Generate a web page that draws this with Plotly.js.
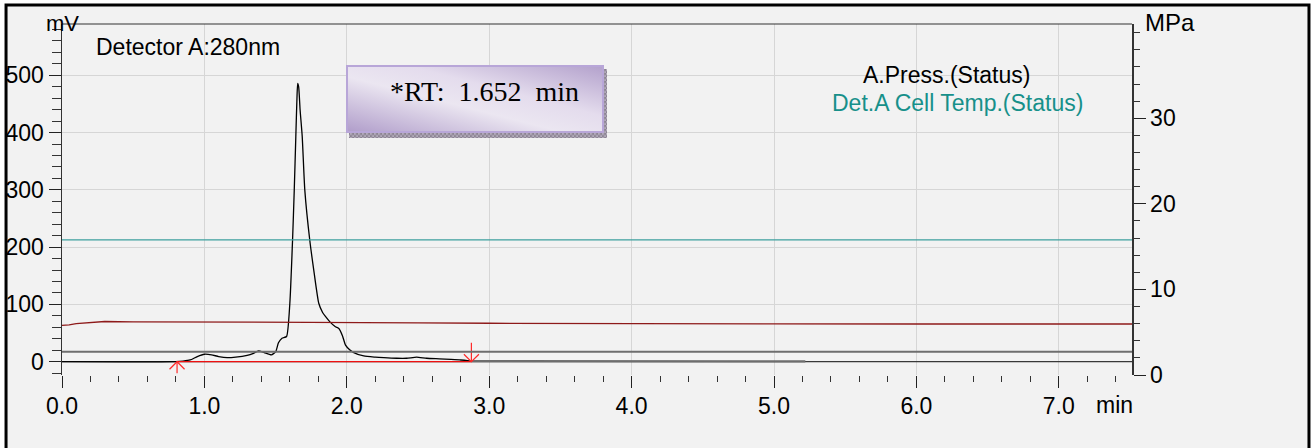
<!DOCTYPE html>
<html><head><meta charset="utf-8">
<script src="https://cdn.plot.ly/plotly-3.0.1.min.js"></script>
<style>html,body{margin:0;padding:0;background:#fff}#chart{width:1311px;height:448px}</style>
</head><body><div id="chart"></div>
<script>
// ---- data ----
const timeMin = [0, 0.80, 0.85, 0.90, 0.95, 1.00, 1.05, 1.10, 1.16, 1.22, 1.30, 1.34, 1.38, 1.42, 1.47, 1.50, 1.52, 1.545, 1.577, 1.600, 1.619, 1.631, 1.642, 1.650, 1.655, 1.662, 1.672, 1.687, 1.705, 1.740, 1.768, 1.803, 1.830, 1.850, 1.880, 1.920, 1.944, 1.970, 1.991, 2.020, 2.049, 2.119, 2.200, 2.260, 2.350, 2.420, 2.490, 2.560, 2.650, 2.730, 2.800, 2.875];
const signalMv = [0, 0, 1, 3, 9, 13, 12, 9, 7, 8, 11, 14, 19, 16, 12, 17, 33, 41, 44, 102, 212, 300, 393, 460, 486, 480, 440, 393, 300, 212, 160, 102, 86, 79, 70, 61, 58, 45, 29, 21, 16, 10, 8, 7, 6, 6, 8, 6, 5, 4, 3, 1];
const tailTime = [2.875, 3.5, 4.0, 4.5, 5.0, 5.22];
const tailMv = [1, 0.5, 0.5, 0.5, 0.5, 0.5];

const pressTime = [0, 0.05, 0.1, 0.2, 0.3, 0.5, 1.0, 1.5, 2.0, 2.5, 3.0, 3.5, 4.0, 5.0, 6.0, 7.0, 7.514];
const pressMPa = [5.80, 5.85, 6.00, 6.15, 6.25, 6.22, 6.20, 6.20, 6.17, 6.10, 6.05, 6.02, 6.00, 5.97, 5.96, 5.96, 5.96];
const tempTime = [0, 1, 2, 3, 4, 5, 6, 7, 7.514];
const tempVal = [15.78, 15.78, 15.78, 15.78, 15.78, 15.78, 15.78, 15.78, 15.78];
const statusTime = [0, 7.514];
const statusVal = [2.72, 2.72];

const peakStart = 0.808;
const peakEnd = 2.875;
const retentionTime = 1.652;

const xTicks = [0, 1, 2, 3, 4, 5, 6, 7];
const xTickLabels = ['0.0', '1.0', '2.0', '3.0', '4.0', '5.0', '6.0', '7.0'];
const leftTicks = [0, 100, 200, 300, 400, 500];
const leftTickLabels = ['0', '100', '200', '300', '400', '500'];
const rightTicks = [0, 10, 20, 30];
const rightTickLabels = ['0', '10', '20', '30'];

const xRange = [0, 7.514];
const yLeftRange = [-23.2, 589.6];
const yRightRange = [0, 41.02];

// ---- helpers ----
const plotW = 1070, plotH = 351;
const minPerPx = (xRange[1] - xRange[0]) / plotW;
const mvPerPx = (yLeftRange[1] - yLeftRange[0]) / plotH;
const arm = 7.5; // px
const ax = arm * minPerPx, ay = arm * mvPerPx;
const upTail = -11.5 * mvPerPx, downTail = 19 * mvPerPx;
const arrowX = [peakStart, peakStart, null, peakStart - ax, peakStart, peakStart + ax, null,
                peakEnd, peakEnd, null, peakEnd - ax, peakEnd, peakEnd + ax];
const arrowY = [0, upTail, null, -ay, 0, -ay, null,
                0, downTail, null, ay, 0, ay];

const SANS = '"Liberation Sans", Arial, sans-serif';
const SERIF = '"Liberation Serif", "Times New Roman", serif';

const traces = [
  {x: statusTime, y: statusVal, yaxis: 'y2', mode: 'lines', line: {color: '#6e6e6e', width: 2.2}, hoverinfo: 'skip'},
  {x: tempTime, y: tempVal, yaxis: 'y2', mode: 'lines', line: {color: '#3d9f9e', width: 1.3}, hoverinfo: 'skip'},
  {x: pressTime, y: pressMPa, yaxis: 'y2', mode: 'lines', line: {color: '#8e1a1a', width: 1.3}, hoverinfo: 'skip'},
  {x: xRange, y: [0, 0], mode: 'lines', line: {color: '#111', width: 1}, hoverinfo: 'skip'},
  {x: tailTime, y: tailMv, mode: 'lines', line: {color: '#6e6e6e', width: 2.2}, hoverinfo: 'skip'},
  {x: timeMin, y: signalMv, mode: 'lines', line: {color: '#000', width: 1.3, shape: 'spline', smoothing: 0.5}, hoverinfo: 'skip'},
  {x: [peakStart, peakEnd], y: [0, 0], mode: 'lines', line: {color: '#ee1111', width: 1.3}, hoverinfo: 'skip'},
  {x: arrowX, y: arrowY, mode: 'lines', line: {color: '#ff2a2a', width: 1.2}, hoverinfo: 'skip', cliponaxis: false}
];

const boxSvg = '<svg xmlns="http://www.w3.org/2000/svg" width="261" height="73" viewBox="0 0 261 73" preserveAspectRatio="none">' +
  '<defs><linearGradient id="g" x1="0" y1="1" x2="1" y2="0">' +
  '<stop offset="0" stop-color="#b09dca"/><stop offset="0.42" stop-color="#ebe6f1"/>' +
  '<stop offset="0.62" stop-color="#e4dced"/><stop offset="1" stop-color="#b3a1cc"/></linearGradient>' +
  '<pattern id="p" width="4" height="4" patternUnits="userSpaceOnUse"><rect width="4" height="4" fill="#8b8392"/>' +
  '<rect width="2" height="2" fill="#b3abbb"/><rect x="2" y="2" width="2" height="2" fill="#b3abbb"/></pattern></defs>' +
  '<rect x="3" y="4" width="258" height="69" fill="url(#p)"/>' +
  '<rect x="1" y="1" width="256" height="66" fill="url(#g)" stroke="#b8a6d8" stroke-width="2"/></svg>';

const axisFont = {family: SANS, size: 23, color: '#000'};

const layout = {
  width: 1311, height: 448,
  margin: {l: 62, r: 179, t: 24, b: 73},
  paper_bgcolor: '#ffffff',
  plot_bgcolor: 'rgba(0,0,0,0)',
  showlegend: false,
  font: {family: SANS, color: '#000'},
  xaxis: {
    range: xRange, tickmode: 'array', tickvals: xTicks, ticktext: xTickLabels,
    ticks: 'outside', ticklen: 12, tickwidth: 1, tickcolor: '#222', ticklabelstandoff: -2,
    minor: {tickmode: 'linear', tick0: 0, dtick: 0.2, ticks: 'outside', ticklen: 6, tickwidth: 1, tickcolor: '#333', showgrid: false},
    showgrid: true, gridcolor: '#d6d6d6', gridwidth: 1,
    showline: false, zeroline: false, tickfont: axisFont, fixedrange: true
  },
  yaxis: {
    range: yLeftRange, tickmode: 'array', tickvals: leftTicks, ticktext: leftTickLabels,
    ticks: 'outside', ticklen: 12, tickwidth: 1, tickcolor: '#222',
    minor: {tickmode: 'linear', tick0: 0, dtick: 20, ticks: 'outside', ticklen: 9, tickwidth: 1, tickcolor: '#333', showgrid: false},
    showgrid: true, gridcolor: '#d6d6d6', gridwidth: 1,
    showline: true, linecolor: '#333', linewidth: 1.5, zeroline: false,
    tickfont: axisFont, fixedrange: true
  },
  yaxis2: {
    overlaying: 'y', side: 'right', range: yRightRange,
    tickmode: 'array', tickvals: rightTicks, ticktext: rightTickLabels,
    ticks: 'outside', ticklen: 12, tickwidth: 1, tickcolor: '#222',
    minor: {tickmode: 'linear', tick0: 0, dtick: 2, ticks: 'outside', ticklen: 6, tickwidth: 1, tickcolor: '#333', showgrid: false},
    showgrid: false, showline: true, linecolor: '#333', linewidth: 1.5, zeroline: false,
    tickfont: axisFont, fixedrange: true
  },
  shapes: [
    {type: 'rect', xref: 'paper', yref: 'paper', x0: -0.0523, x1: 1.1654, y0: -0.25, y1: 1.0541,
     line: {color: '#000', width: 3}, fillcolor: '#f2f2f2', layer: 'below'},
    {type: 'line', xref: 'paper', yref: 'paper', x0: 0, x1: 1, y0: 1, y1: 1,
     line: {color: '#333', width: 1.2}}
  ],
  images: [{
    source: 'data:image/svg+xml;charset=utf-8,' + encodeURIComponent(boxSvg),
    xref: 'paper', yref: 'paper', x: 0.26542, y: 0.88319, sizex: 0.24393, sizey: 0.20798,
    xanchor: 'left', yanchor: 'top', sizing: 'stretch', layer: 'above'
  }],
  annotations: [
    {xref: 'paper', yref: 'paper', x: 0, y: 1, yshift: 1, text: 'mV', showarrow: false,
     xanchor: 'center', yanchor: 'middle', font: {family: SANS, size: 22, color: '#000'}},
    {xref: 'paper', yref: 'paper', x: 1.0103, y: 1, yshift: 2, text: 'MPa', showarrow: false,
     xanchor: 'left', yanchor: 'middle', font: {family: SANS, size: 24, color: '#000'}},
    {xref: 'paper', yref: 'paper', x: 0.0299, y: 0.9345, text: 'Detector A:280nm', showarrow: false,
     xanchor: 'left', yanchor: 'middle', font: {family: SANS, size: 23, color: '#000'}},
    {xref: 'paper', yref: 'paper', x: 0.8266, y: 0.8547, text: 'A.Press.(Status)', showarrow: false,
     xanchor: 'center', yanchor: 'middle', font: {family: SANS, size: 23, color: '#000'}},
    {xref: 'paper', yref: 'paper', x: 0.8369, y: 0.7741, text: 'Det.A Cell Temp.(Status)', showarrow: false,
     xanchor: 'center', yanchor: 'middle', font: {family: SANS, size: 23, color: '#17908a'}},
    {xref: 'paper', yref: 'paper', x: 0.3953, y: 0.8063, text: '*RT:\u00a0 ' + retentionTime.toFixed(3) + '\u00a0 min', showarrow: false,
     xanchor: 'center', yanchor: 'middle', font: {family: SERIF, size: 28, color: '#000'}},
    {xref: 'paper', yref: 'paper', x: 0.9832, y: -0.0855, text: 'min', showarrow: false,
     xanchor: 'center', yanchor: 'middle', font: {family: SANS, size: 23, color: '#000'}}
  ]
};

Plotly.newPlot('chart', traces, layout, {staticPlot: true, displayModeBar: false});
</script>
</body></html>
